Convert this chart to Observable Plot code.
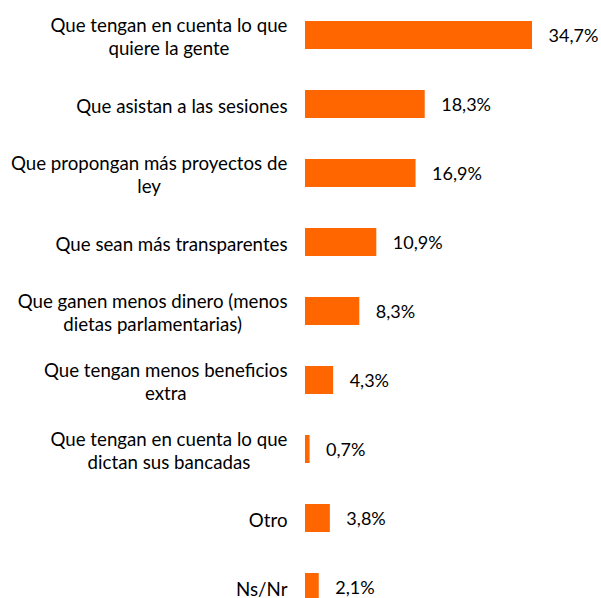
<!DOCTYPE html>
<html>
<head>
<meta charset="utf-8">
<script src="https://cdn.jsdelivr.net/npm/d3@7"></script>
<script src="https://cdn.jsdelivr.net/npm/@observablehq/plot@0.6"></script>
<style>
  html, body { margin: 0; padding: 0; background: #fff; }
  #chart svg { display: block; }
</style>
</head>
<body>
<div id="chart"></div>
<script>
const categories = [
  "Que tengan en cuenta lo que\nquiere la gente",
  "Que asistan a las sesiones",
  "Que propongan más proyectos de\nley",
  "Que sean más transparentes",
  "Que ganen menos dinero (menos\ndietas parlamentarias)",
  "Que tengan menos beneficios\nextra",
  "Que tengan en cuenta lo que\ndictan sus bancadas",
  "Otro",
  "Ns/Nr"
];
const values = [34.7, 18.3, 16.9, 10.9, 8.3, 4.3, 0.7, 3.8, 2.1];

const data = categories.map((c, i) => ({category: c, value: values[i]}));
const fmt = v => v.toFixed(1).replace(".", ",") + "%";
const FONT = "Lato, 'Liberation Sans', sans-serif";

const chart = Plot.plot({
  width: 601,
  height: 598,
  marginLeft: 305,
  marginRight: 69,
  marginTop: 0,
  marginBottom: 0,
  style: {fontFamily: FONT, fontSize: "18px", color: "#000", background: "#fff"},
  x: {domain: [0, 34.7], axis: null},
  y: {domain: categories, range: [-2.1, 624.3], paddingInner: 0.6, paddingOuter: 0.3, axis: null},
  marks: [
    Plot.barX(data, {x: "value", y: "category", fill: "#FF6600"}),
    Plot.text(data, {x: "value", y: "category", text: d => fmt(d.value), textAnchor: "start", dx: 16, dy: 1, fill: "#000", fontSize: 18}),
    Plot.text(data, {x: 0, y: "category", text: "category", textAnchor: "end", dx: -18, dy: 1, fill: "#000", fontSize: 18.7, lineHeight: 1.2, className: "cat-labels"})
  ]
});
document.getElementById("chart").append(chart);

// center each line of a multi-line label within its right-aligned block
chart.querySelectorAll(".cat-labels text").forEach(t => {
  const spans = t.querySelectorAll("tspan");
  if (spans.length < 2) return;
  const w = t.getBBox().width;
  t.setAttribute("text-anchor", "middle");
  spans.forEach(s => s.setAttribute("x", -w / 2));
});
</script>
</body>
</html>
